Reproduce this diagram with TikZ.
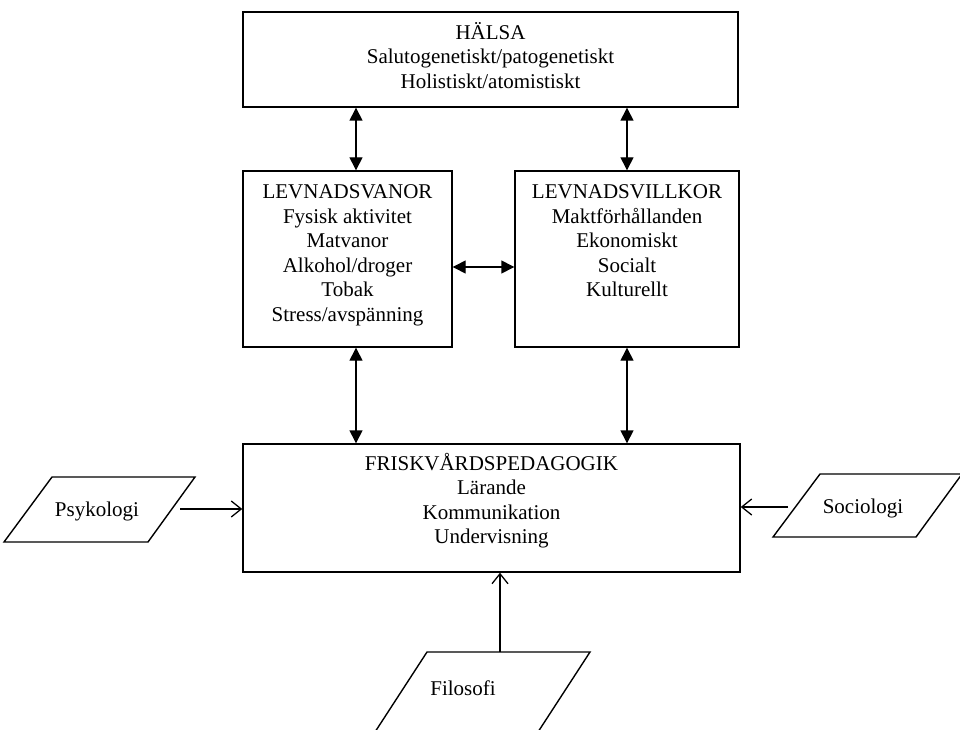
\documentclass[tikz,border=0pt]{standalone}
\usepackage{fontspec}
\setmainfont{Liberation Serif}
\usetikzlibrary{arrows.meta}
\begin{document}
\begin{tikzpicture}[x=1pt,y=-1pt,
  box/.style={draw, line width=1.4pt, inner sep=0pt, rectangle},
  lbl/.style={align=center, font=\fontsize{21}{24.5}\selectfont, inner sep=0pt, anchor=base},
  both/.style={{Triangle[length=13pt,width=13pt]}-{Triangle[length=13pt,width=13pt]}, line width=1.4pt},
  feed/.style={-{Straight Barb[length=10pt,width=16pt]}, line width=1.3pt},
  para/.style={draw, line width=1.4pt, line join=miter}]
\useasboundingbox (0,0) rectangle (960,730);

% boxes
\node[box, minimum width=495pt, minimum height=95pt] (halsa) at (490.5,59.5) {};
\node[box, minimum width=209pt, minimum height=176pt] (vanor) at (347.5,259) {};
\node[box, minimum width=224pt, minimum height=176pt] (villkor) at (627,259) {};
\node[box, minimum width=497pt, minimum height=128pt] (frisk) at (491.5,508) {};

% box texts (anchor base = baseline of the last line)
\node[lbl] (halsaT) at (490.5,88.5) {HÄLSA\\Salutogenetiskt/patogenetiskt\\Holistiskt/atomistiskt};
\node[lbl] (vanorT) at (347.5,321) {LEVNADSVANOR\\Fysisk aktivitet\\Matvanor\\Alkohol/droger\\Tobak\\Stress/avspänning};
\node[lbl] (villkorT) at (627,296.5) {LEVNADSVILLKOR\\Maktförhållanden\\Ekonomiskt\\Socialt\\Kulturellt};
\node[lbl] (friskT) at (491.5,543.5) {FRISKVÅRDSPEDAGOGIK\\Lärande\\Kommunikation\\Undervisning};

% parallelograms
\draw[para] (52,477) -- (195,477) -- (148,542) -- (4,542) -- cycle;
\node[lbl] (psyk) at (97,516) {Psykologi};
\coordinate (psykR) at (180,509);

\draw[para] (820,474) -- (962,474) -- (916,537) -- (773,537) -- cycle;
\node[lbl] (soc) at (863,513) {Sociologi};
\coordinate (socL) at (788,507);

\draw[para] (375,732) -- (427,652) -- (590,652) -- (538,732);
\node[lbl] (filo) at (463,695) {Filosofi};
\coordinate (filoT) at (500,652);

% connectors
\coordinate (a1) at (356,0);
\coordinate (a2) at (627,0);
\coordinate (a3) at (0,267);
\draw[both] (a1 |- halsa.south) -- (a1 |- vanor.north);
\draw[both] (a1 |- vanor.south) -- (a1 |- frisk.north);
\draw[both] (a2 |- halsa.south) -- (a2 |- villkor.north);
\draw[both] (a2 |- villkor.south) -- (a2 |- frisk.north);
\draw[both] (a3 -| vanor.east) -- (a3 -| villkor.west);

\draw[feed] (psykR) -- (psykR -| frisk.west);
\draw[feed] (socL) -- (socL -| frisk.east);
\draw[feed] (filoT) -- (filoT |- frisk.south);
\end{tikzpicture}
\end{document}
